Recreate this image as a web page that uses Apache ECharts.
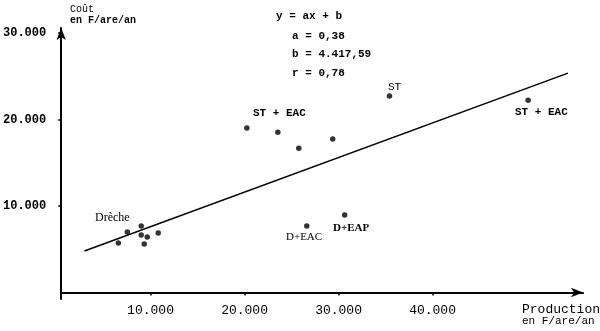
<!DOCTYPE html>
<html><head><meta charset="utf-8">
<script src="https://cdn.jsdelivr.net/npm/echarts@6/dist/echarts.min.js"></script>
<style>html,body{margin:0;padding:0;background:#fff}#c{width:600px;height:331px}</style>
</head><body><div id="c"></div>
<script>
// Data (production F/are/an, cost F/are/an)
const drecheX = [6575, 7530, 9010, 9010, 9650, 9330, 10820];
const drecheY = [5720, 6990, 7690, 6650, 6420, 5610, 6880];
const dX = [26620, 30650];
const dY = [7690, 8960];
const stEacX = [20250, 23540, 25770, 29380, 35420, 50160];
const stEacY = [19020, 18550, 16700, 17750, 22720, 22250];
const lineX = [2970, 54400];
const lineY = [4800, 25380];
const xTicks = [10000, 20000, 30000, 40000];
const yTicks = [10000, 20000, 30000];

const pts = (xs, ys) => xs.map((x, i) => [x, ys[i]]);
const fmt = v => (v / 1000) + '.000';
const mono = '"Liberation Mono", "DejaVu Sans Mono", monospace';
const serif = '"Liberation Serif", "DejaVu Serif", serif';

const chart = echarts.init(document.getElementById('c'));
const txt = (t, x, y, font) => ({
  type: 'text', left: x, top: y,
  style: { text: t, fill: '#000', font: font || ('bold 11px ' + mono) }
});

chart.setOption({
  animation: false,
  backgroundColor: '#fff',
  grid: { left: 60, right: 17, top: 28, bottom: 32 },
  xAxis: {
    type: 'value', min: 500, max: 56000,
    splitLine: { show: false },
    axisLine: { lineStyle: { color: '#000', width: 2 }, symbol: ['none', 'arrow'], symbolSize: [7, 12] },
    axisTick: { show: true, customValues: xTicks, length: 3, lineStyle: { color: '#000', width: 1.5 } },
    axisLabel: { customValues: xTicks, formatter: fmt, color: '#000', fontFamily: mono, fontSize: 13, margin: 5 }
  },
  yAxis: {
    type: 'value', min: -750, max: 30600,
    splitLine: { show: false },
    axisLine: { lineStyle: { color: '#000', width: 2 }, symbol: ['none', 'arrow'], symbolSize: [7, 12] },
    axisTick: { show: true, customValues: yTicks, length: 3, lineStyle: { color: '#000', width: 1.5 } },
    axisLabel: { customValues: yTicks, formatter: fmt, color: '#000', fontFamily: mono, fontSize: 12, fontWeight: 'bold', margin: 15 }
  },
  series: [
    { type: 'line', data: pts(lineX, lineY), symbol: 'none', lineStyle: { color: '#000', width: 1.5 } },
    { type: 'scatter', data: pts(drecheX, drecheY), symbolSize: 5.5, itemStyle: { color: '#000' } },
    { type: 'scatter', data: pts(dX, dY), symbolSize: 5.5, itemStyle: { color: '#000' } },
    { type: 'scatter', data: pts(stEacX, stEacY), symbolSize: 5.5, itemStyle: { color: '#000' } }
  ],
  graphic: [
    txt('Coût', 70, 4, '10px ' + mono),
    txt('en F/are/an', 70, 15, 'bold 10px ' + mono),
    txt('y = ax + b', 276, 11),
    txt('a = 0,38', 292, 31),
    txt('b = 4.417,59', 292, 49),
    txt('r = 0,78', 292, 68),
    txt('ST', 388, 82, '11px ' + mono),
    txt('ST + EAC', 253, 108),
    txt('ST + EAC', 515, 107),
    txt('Drèche', 95, 212, '12px ' + serif),
    txt('D+EAC', 286, 232, '11px ' + serif),
    txt('D+EAP', 333, 223, 'bold 11px ' + serif),
    txt('Production', 522, 303, '13px ' + mono),
    txt('en F/are/an', 522, 316, '11px ' + mono)
  ]
});
</script></body></html>
